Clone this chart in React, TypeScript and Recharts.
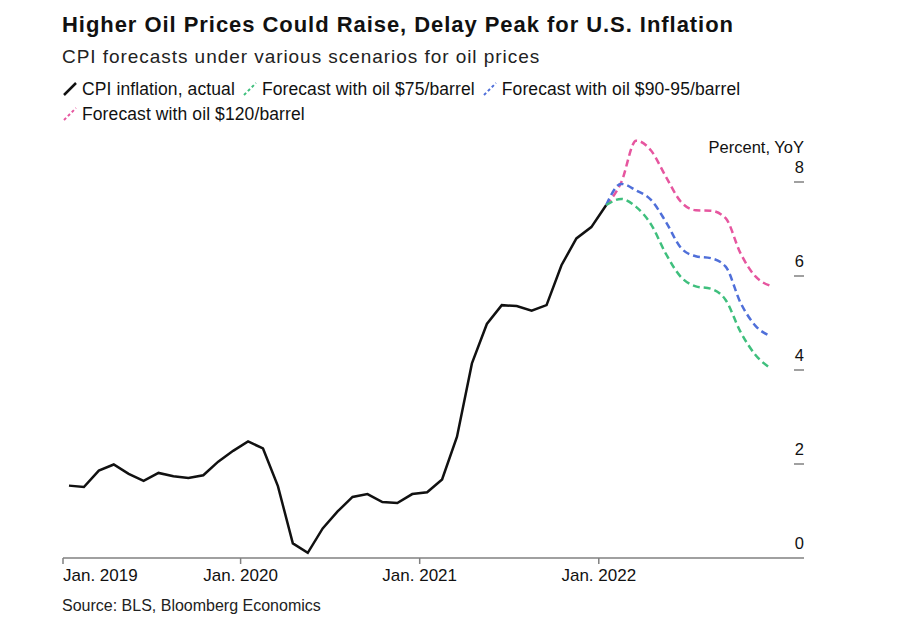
import React from "react";
import { LineChart, Line, XAxis, YAxis } from "recharts";

// monthly CPI YoY, Jan 2019 .. Jan 2022
const actual = [
  1.54, 1.51, 1.86, 1.99, 1.79, 1.64, 1.81, 1.74, 1.7, 1.76, 2.05, 2.28,
  2.48, 2.33, 1.53, 0.31, 0.11, 0.63, 0.99, 1.3, 1.36, 1.19, 1.17, 1.36,
  1.4, 1.67, 2.58, 4.14, 4.98, 5.38, 5.36, 5.26, 5.38, 6.23, 6.8, 7.04,
  7.51,
];

// forecasts, Jan 2022 .. Dec 2022
const oil75 = [7.51, 7.64, 7.47, 7.1, 6.47, 5.98, 5.78, 5.73, 5.49, 4.81, 4.32, 4.04];
const oil90 = [7.51, 7.96, 7.82, 7.62, 7.15, 6.6, 6.42, 6.38, 6.2, 5.43, 4.94, 4.72];
const oil120 = [7.51, 7.99, 8.88, 8.67, 8.11, 7.58, 7.4, 7.39, 7.23, 6.48, 5.99, 5.79];

const forecastStart = 36;
const xTicks = [-0.4, 11.5, 23.5, 35.5];
const xTickLabels = ["Jan. 2019", "Jan. 2020", "Jan. 2021", "Jan. 2022"];
const yTicks = [0, 2, 4, 6, 8];

const BLACK = "#111111";
const GREEN = "#3fbf7d";
const BLUE = "#4f6fd9";
const PINK = "#e6569f";
const AXIS = "#808080";
const FONT = "'Liberation Sans', Arial, sans-serif";

const rows = Array.from({ length: forecastStart + oil75.length }, (_, i) => {
  const f = i - forecastStart;
  return {
    i,
    actual: i < actual.length ? actual[i] : null,
    oil75: f >= 0 ? oil75[f] : null,
    oil90: f >= 0 ? oil90[f] : null,
    oil120: f >= 0 ? oil120[f] : null,
  };
});

const legendItems = [
  { label: "CPI inflation, actual", color: BLACK, dashed: false },
  { label: "Forecast with oil $75/barrel", color: GREEN, dashed: true },
  { label: "Forecast with oil $90-95/barrel", color: BLUE, dashed: true },
  { label: "Forecast with oil $120/barrel", color: PINK, dashed: true },
];

const XTick = (props: any) => {
  const { x, y, index } = props;
  const first = index === 0;
  return (
    <text
      x={x}
      y={y + 15}
      textAnchor={first ? "start" : "middle"}
      fontSize={17}
      fontFamily={FONT}
      fill="#111"
    >
      {xTickLabels[index]}
    </text>
  );
};

const YTick = (props: any) => {
  const { x, y, payload } = props;
  return (
    <g>
      {payload.value !== 0 && (
        <line x1={x - 10} x2={x} y1={y} y2={y} stroke={AXIS} strokeWidth={1.5} />
      )}
      <text
        x={x}
        y={y - 9}
        textAnchor="end"
        fontSize={16.5}
        fontFamily={FONT}
        fill="#111"
      >
        {payload.value}
      </text>
    </g>
  );
};

const LegendIcon = ({ color, dashed }: { color: string; dashed: boolean }) => (
  <svg width={14} height={14} style={{ flex: "none" }}>
    <line
      x1={1}
      y1={13}
      x2={13}
      y2={1}
      stroke={color}
      strokeWidth={dashed ? 2 : 2.5}
      strokeDasharray={dashed ? "3 2.5" : undefined}
    />
  </svg>
);

export default function App() {
  return (
    <div
      style={{
        position: "relative",
        width: 897,
        height: 625,
        margin: -8,
        background: "#fff",
        fontFamily: FONT,
        color: "#111",
        overflow: "hidden",
      }}
    >
      <LineChart
        width={897}
        height={625}
        data={rows}
        margin={{ top: 135, right: 92, left: 63, bottom: 37 }}
      >
        <XAxis
          dataKey="i"
          type="number"
          domain={[-0.4, 49.25]}
          ticks={xTicks}
          interval={0}
          height={30}
          stroke={AXIS}
          strokeWidth={1.5}
          tickSize={6}
          tick={<XTick />}
        />
        <YAxis
          orientation="right"
          domain={[0, 9]}
          ticks={yTicks}
          width={1}
          axisLine={false}
          tickLine={false}
          tickSize={0}
          tickMargin={0}
          tick={<YTick />}
        />
        <Line
          dataKey="actual"
          stroke={BLACK}
          strokeWidth={2.5}
          dot={false}
          type="linear"
          isAnimationActive={false}
        />
        <Line
          dataKey="oil120"
          stroke={PINK}
          strokeWidth={2.5}
          strokeDasharray="7 4"
          dot={false}
          type="monotone"
          isAnimationActive={false}
        />
        <Line
          dataKey="oil90"
          stroke={BLUE}
          strokeWidth={2.5}
          strokeDasharray="7 4"
          dot={false}
          type="monotone"
          isAnimationActive={false}
        />
        <Line
          dataKey="oil75"
          stroke={GREEN}
          strokeWidth={2.5}
          strokeDasharray="7 4"
          dot={false}
          type="monotone"
          isAnimationActive={false}
        />
      </LineChart>

      <div
        style={{
          position: "absolute",
          left: 62,
          top: 14,
          fontSize: 22,
          lineHeight: 1,
          fontWeight: 700,
          letterSpacing: 0.95,
          whiteSpace: "nowrap",
        }}
      >
        Higher Oil Prices Could Raise, Delay Peak for U.S. Inflation
      </div>
      <div
        style={{
          position: "absolute",
          left: 62,
          top: 47,
          fontSize: 19,
          lineHeight: 1,
          letterSpacing: 0.95,
          color: "#222",
          whiteSpace: "nowrap",
        }}
      >
        CPI forecasts under various scenarios for oil prices
      </div>
      <div
        style={{
          position: "absolute",
          left: 63,
          top: 80,
          width: 760,
          display: "flex",
          flexWrap: "wrap",
          columnGap: 8,
          rowGap: 7,
          fontSize: 17.5,
          letterSpacing: 0.1,
          lineHeight: "18px",
        }}
      >
        {legendItems.map((item) => (
          <div
            key={item.label}
            style={{ display: "flex", alignItems: "center", gap: 5, whiteSpace: "nowrap" }}
          >
            <LegendIcon color={item.color} dashed={item.dashed} />
            <span>{item.label}</span>
          </div>
        ))}
      </div>
      <div
        style={{
          position: "absolute",
          right: 897 - 804,
          top: 139,
          fontSize: 16.5,
          lineHeight: 1,
          whiteSpace: "nowrap",
        }}
      >
        Percent, YoY
      </div>
      <div
        style={{
          position: "absolute",
          left: 62,
          top: 598,
          fontSize: 16,
          lineHeight: 1,
          color: "#222",
          whiteSpace: "nowrap",
        }}
      >
        Source: BLS, Bloomberg Economics
      </div>
    </div>
  );
}
